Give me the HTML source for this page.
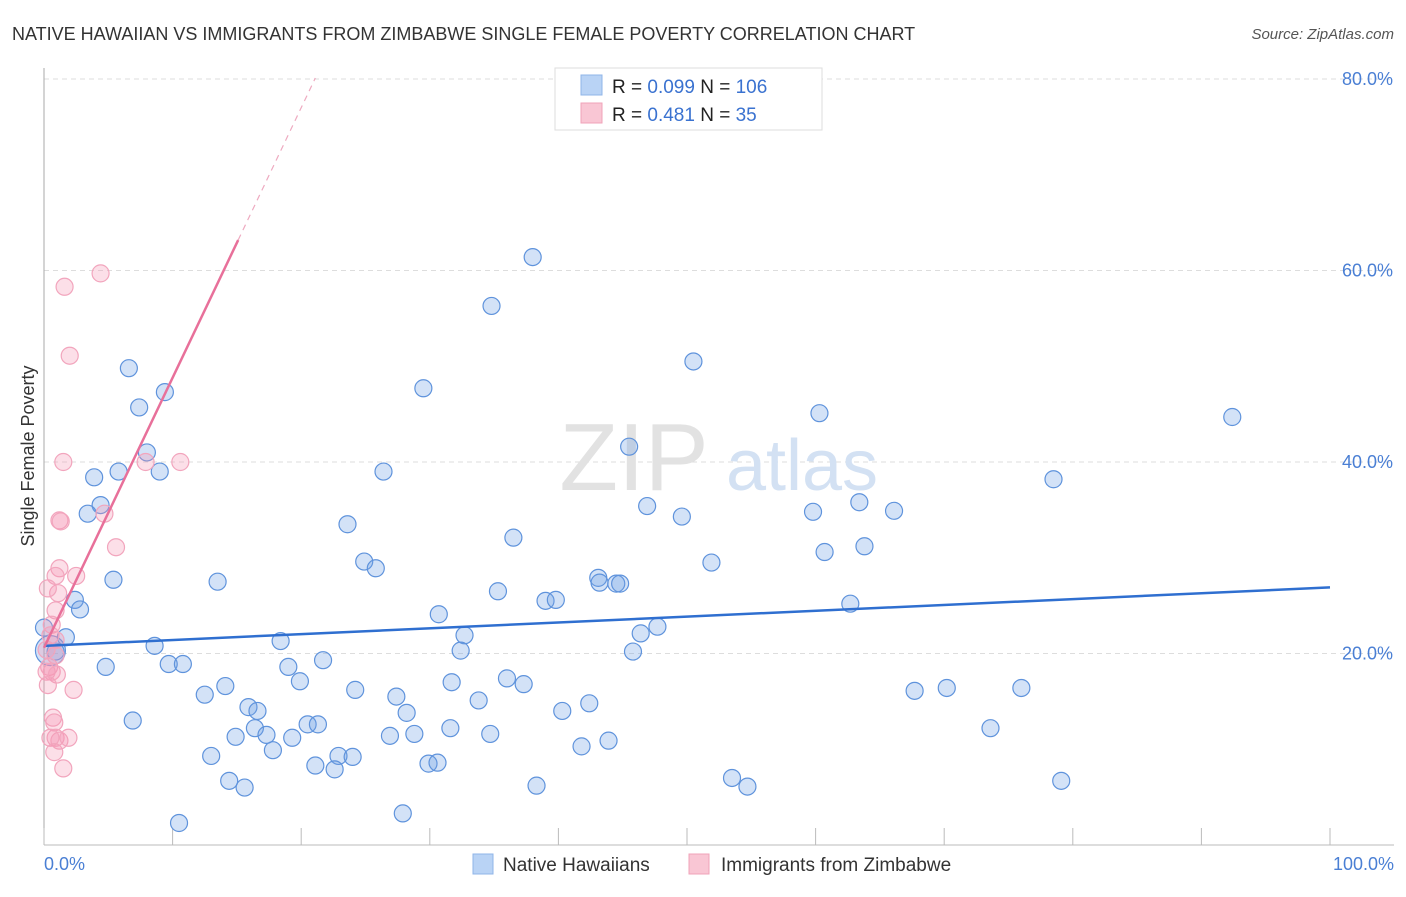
<!DOCTYPE html>
<html><head><meta charset="utf-8"><style>
body{margin:0;background:#fff;font-family:"Liberation Sans",sans-serif}
svg text{font-family:"Liberation Sans",sans-serif}
</style></head><body>
<svg width="1406" height="892" xmlns="http://www.w3.org/2000/svg">
<text x="12" y="40" font-size="18" fill="#333">NATIVE HAWAIIAN VS IMMIGRANTS FROM ZIMBABWE SINGLE FEMALE POVERTY CORRELATION CHART</text>
<text x="1394" y="39" font-size="15" fill="#555" font-style="italic" text-anchor="end">Source: ZipAtlas.com</text>
<g id="grid"></g>
<g>
<text x="634" y="490" font-size="96" font-family="Liberation Serif" fill="#e2e2e2" text-anchor="middle">ZIP</text>
<text x="802" y="490" font-size="72" fill="#d3e1f3" text-anchor="middle">atlas</text>
</g>
<g id="pts"></g>
<g id="lines"></g>
<text transform="translate(34,456) rotate(-90)" font-size="18" fill="#333" text-anchor="middle">Single Female Poverty</text>
<text x="44" y="870" font-size="18" fill="#4a7fd4">0.0%</text>
<text x="1394" y="870" font-size="18" fill="#4a7fd4" text-anchor="end">100.0%</text>
<g>
<rect x="555" y="68" width="267" height="62" fill="#fff" stroke="#ddd"/>
<rect x="581" y="75" width="21" height="20" fill="#b9d3f5" stroke="#8fb5e8"/>
<rect x="581" y="103" width="21" height="20" fill="#f9c6d4" stroke="#f0a3b9"/>
<text x="612" y="93" font-size="19" fill="#222">R = <tspan fill="#3a72d0">0.099</tspan>   N = <tspan fill="#3a72d0">106</tspan></text>
<text x="612" y="121" font-size="19" fill="#222">R =  <tspan fill="#3a72d0">0.481</tspan>   N =   <tspan fill="#3a72d0">35</tspan></text>
</g>
<g>
<rect x="473" y="854" width="20" height="20" fill="#b9d3f5" stroke="#8fb5e8"/>
<text x="503" y="871" font-size="19" fill="#333">Native Hawaiians</text>
<rect x="689" y="854" width="20" height="20" fill="#f9c6d4" stroke="#f0a3b9"/>
<text x="721" y="871" font-size="19" fill="#333">Immigrants from Zimbabwe</text>
</g>
</svg>
<script>
const yTicks=[20,40,60,80];
const yTickLabels=["20.0%","40.0%","60.0%","80.0%"];
const xTicks=[0,10,20,30,40,50,60,70,80,90,100];
const blueX=[38.0,34.8,50.5,6.6,29.5,7.4,9.4,8.0,9.0,5.8,3.9,26.4,45.5,60.3,92.4,78.5,4.4,3.4,23.6,36.5,46.9,49.6,59.8,63.4,66.1,60.7,63.8,24.9,25.8,51.9,5.4,13.5,35.3,43.1,43.2,44.5,44.8,39.0,39.8,2.4,2.8,30.7,62.7,1.7,0.0,8.6,18.4,32.7,32.4,46.4,47.7,45.8,0.9,4.8,9.7,10.8,19.0,21.7,19.9,31.7,36.0,37.3,12.5,14.1,15.9,16.6,24.2,27.4,28.2,33.8,40.3,42.4,67.7,70.2,76.0,6.9,16.4,14.9,17.3,17.8,19.3,20.5,21.3,26.9,28.8,31.6,34.7,13.0,22.9,24.0,21.1,22.6,29.9,30.6,41.8,43.9,73.6,14.4,15.6,38.3,53.5,54.7,79.1,27.9,10.5,0.5];
const blueY=[61.4,56.3,50.5,49.8,47.7,45.7,47.3,41.0,39.0,39.0,38.4,39.0,41.6,45.1,44.7,38.2,35.5,34.6,33.5,32.1,35.4,34.3,34.8,35.8,34.9,30.6,31.2,29.6,28.9,29.5,27.7,27.5,26.5,27.9,27.4,27.3,27.3,25.5,25.6,25.6,24.6,24.1,25.2,21.7,22.7,20.8,21.3,21.9,20.3,22.1,22.8,20.2,20.2,18.6,18.9,18.9,18.6,19.3,17.1,17.0,17.4,16.8,15.7,16.6,14.4,14.0,16.2,15.5,13.8,15.1,14.0,14.8,16.1,16.4,16.4,13.0,12.2,11.3,11.5,9.9,11.2,12.6,12.6,11.4,11.6,12.2,11.6,9.3,9.3,9.2,8.3,7.9,8.5,8.6,10.3,10.9,12.2,6.7,6.0,6.2,7.0,6.1,6.7,3.3,2.3,20.3];
const pinkX=[4.4,1.6,2.0,1.5,7.9,10.6,1.2,1.3,4.7,5.6,1.2,0.9,2.5,1.1,0.3,0.9,0.6,0.5,0.9,0.4,0.6,0.2,1.0,0.3,2.3,0.7,0.8,0.9,1.2,1.9,0.5,0.8,1.5,0.2,0.9];
const pinkY=[59.7,58.3,51.1,40.0,40.0,40.0,33.9,33.8,34.6,31.1,28.9,28.1,28.1,26.3,26.8,24.5,23.0,21.9,19.8,18.6,18.1,18.1,17.8,16.7,16.2,13.3,12.8,11.2,10.9,11.2,11.2,9.7,8.0,20.4,21.4];
const blueTrend=[20.8,0.061];
const pinkTrend=[20.6,2.82];
const X=v=>44+v*12.86, Y=v=>845-v*9.575;
const NS="http://www.w3.org/2000/svg";
function mk(t,a,p){const e=document.createElementNS(NS,t);for(const k in a)e.setAttribute(k,a[k]);p.appendChild(e);return e;}
const g=document.getElementById('grid');
yTicks.forEach((t,i)=>{
 const l=mk('line',{x1:44,x2:1394,y1:Y(t),y2:Y(t),stroke:'#ddd','stroke-dasharray':'5,4'},g);
 
 
 const tx=mk('text',{x:1393,y:Y(t)-52+60-8+6,'font-size':18,fill:'#4a7fd4','text-anchor':'end'},g);
 tx.textContent=yTickLabels[i];
 
 
});
mk('line',{x1:44,x2:44,y1:68,y2:845,stroke:'#aaa'},g);
mk('line',{x1:44,x2:1394,y1:845,y2:845,stroke:'#bbb'},g);
xTicks.forEach(t=>{const l=mk('line',{x1:X(t),x2:X(t),y1:828,y2:845,stroke:'#bbb'},g);
 
 });
const P=document.getElementById('pts');
blueX.forEach((x,i)=>{const c=mk('circle',{cx:X(x),cy:Y(blueY[i]),r:i==blueX.length-1?15:8.5,fill:'rgba(110,160,230,0.3)',stroke:'#5f93dc','stroke-width':1.2},P);
 
 });
pinkX.forEach((x,i)=>{const c=mk('circle',{cx:X(x),cy:Y(pinkY[i]),r:8.5,fill:'rgba(245,150,180,0.3)',stroke:'#f2a5bd','stroke-width':1.2},P);
 
 });
const L=document.getElementById('lines');
let b=mk('line',{x1:X(0),y1:Y(blueTrend[0]),x2:X(100),y2:Y(blueTrend[0]+100*blueTrend[1]),stroke:'#2f6fd0','stroke-width':2.5},L);


let p=mk('line',{x1:X(0),y1:Y(pinkTrend[0]),x2:X(15.1),y2:Y(pinkTrend[0]+15.1*pinkTrend[1]),stroke:'#e8709a','stroke-width':2.5},L);


let pd=mk('line',{x1:X(15.1),y1:Y(pinkTrend[0]+15.1*pinkTrend[1]),x2:X(21.1),y2:Y(pinkTrend[0]+21.1*pinkTrend[1]),stroke:'#eeaac0','stroke-width':1.2,'stroke-dasharray':'6,5'},L);


</script>
</body></html>
